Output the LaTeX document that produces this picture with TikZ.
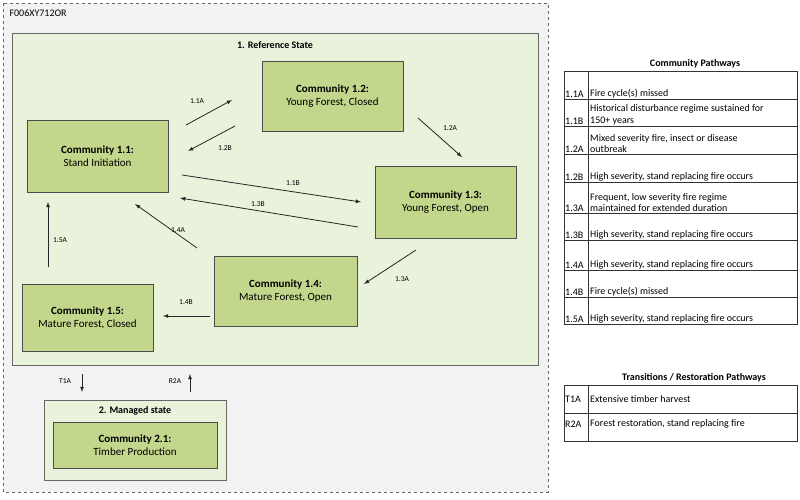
\documentclass[tikz,border=0pt]{standalone}
\usepackage{fontspec}
\setmainfont{Carlito}
\begin{document}
\begin{tikzpicture}[x=1pt,y=-1pt,
 comm/.style={draw=black!70,fill={rgb,255:red,194;green,214;blue,140},align=center,font=\fontsize{11}{13}\selectfont},
 lab/.style={font=\fontsize{7.5}{9}\selectfont},
 arr/.style={-latex,black!85,thick},
 cell/.style={font=\fontsize{10}{11.5}\selectfont,anchor=south west,inner sep=1pt,align=left}]
\useasboundingbox (0,0) rectangle (800,500);
\draw[dashed,black!60,fill={rgb,255:red,242;green,242;blue,242}] (3,3) rectangle (548,492);
\node[anchor=north west,font=\fontsize{10}{12}\selectfont] (id) at (6,6) {F006XY712OR};
\draw[black!60,fill={rgb,255:red,233;green,242;blue,218}] (12,33) rectangle (538,365);
\node[font=\bfseries\fontsize{10}{12}\selectfont] (rs) at (275,45) {1. Reference State};
\node[comm,minimum width=141,minimum height=70] (c12) at (332.5,96) {\textbf{Community 1.2:}\\Young Forest, Closed};
\node[comm,minimum width=141,minimum height=72] (c11) at (97.5,156) {\textbf{Community 1.1:}\\Stand Initiation};
\node[comm,minimum width=141,minimum height=72] (c13) at (445.5,202) {\textbf{Community 1.3:}\\Young Forest, Open};
\node[comm,minimum width=143,minimum height=70] (c14) at (285.5,291) {\textbf{Community 1.4:}\\Mature Forest, Open};
\node[comm,minimum width=131,minimum height=67] (c15) at (87.5,317.5) {\textbf{Community 1.5:}\\Mature Forest, Closed};
\coordinate (a1) at (186,125); \coordinate (a2) at (232,100);
\draw[arr] (a1) -- (a2); \node[lab] (l11a) at (197,101) {1.1A};
\coordinate (b1) at (235,126); \coordinate (b2) at (188,151);
\draw[arr] (b1) -- (b2); \node[lab] (l12b) at (225,148) {1.2B};
\coordinate (d1) at (182,175); \coordinate (d2) at (361,202);
\draw[arr] (d1) -- (d2); \node[lab] (l11b) at (293,183) {1.1B};
\coordinate (e1) at (358,227); \coordinate (e2) at (180,198);
\draw[arr] (e1) -- (e2); \node[lab] (l13b) at (258,204) {1.3B};
\coordinate (f1) at (418,118); \coordinate (f2) at (462,157);
\draw[arr] (f1) -- (f2); \node[lab] (l12a) at (450,128) {1.2A};
\coordinate (g1) at (416,250); \coordinate (g2) at (364,284);
\draw[arr] (g1) -- (g2); \node[lab] (l13a) at (402,279) {1.3A};
\coordinate (h1) at (197,248); \coordinate (h2) at (135,204);
\draw[arr] (h1) -- (h2); \node[lab] (l14a) at (178,230) {1.4A};
\coordinate (i1) at (48,267); \coordinate (i2) at (48,202);
\draw[arr] (i1) -- (i2); \node[lab] (l15a) at (60,240) {1.5A};
\coordinate (j1) at (210,316); \coordinate (j2) at (163,316);
\draw[arr] (j1) -- (j2); \node[lab] (l14b) at (186,302) {1.4B};
\coordinate (k1) at (82,374); \coordinate (k2) at (82,392);
\draw[arr] (k1) -- (k2); \node[lab] (lt1a) at (65,381) {T1A};
\coordinate (m1) at (190,392); \coordinate (m2) at (190,374);
\draw[arr] (m1) -- (m2); \node[lab] (lr2a) at (175,381) {R2A};
\draw[black!60,fill={rgb,255:red,233;green,242;blue,218}] (44,400) rectangle (226,480);
\node[font=\bfseries\fontsize{10}{12}\selectfont] (ms) at (135,411) {2. Managed state};
\node[comm,minimum width=164,minimum height=46] (c21) at (135,445) {\textbf{Community 2.1:}\\Timber Production};
% table 1
\node[font=\bfseries\fontsize{10}{12}\selectfont] (t1) at (695,64) {Community Pathways};
\draw[black!80] (564,71) rectangle (797,324);
\draw[black!80] (588,71) -- (588,324);
\foreach \y in {99,126,154,182,213,240,270,297} \draw[black!80] (564,\y) -- (797,\y);
\node[cell] (r1) at (564,99) {1.1A};\node[cell] (s1) at (589,99) {Fire cycle(s) missed};
\node[cell] (r2) at (564,126) {1.1B};\node[cell] (s2) at (589,126) {Historical disturbance regime sustained for\\150+ years};
\node[cell] (r3) at (564,154) {1.2A};\node[cell] (s3) at (589,154) {Mixed severity fire, insect or disease\\outbreak};
\node[cell] (r4) at (564,182) {1.2B};\node[cell] (s4) at (589,182) {High severity, stand replacing fire occurs};
\node[cell] (r5) at (564,213) {1.3A};\node[cell] (s5) at (589,213) {Frequent, low severity fire regime\\maintained for extended duration};
\node[cell] (r6) at (564,240) {1.3B};\node[cell] (s6) at (589,240) {High severity, stand replacing fire occurs};
\node[cell] (r7) at (564,270) {1.4A};\node[cell] (s7) at (589,270) {High severity, stand replacing fire occurs};
\node[cell] (r8) at (564,297) {1.4B};\node[cell] (s8) at (589,297) {Fire cycle(s) missed};
\node[cell] (r9) at (564,324) {1.5A};\node[cell] (s9) at (589,324) {High severity, stand replacing fire occurs};
% table 2
\node[font=\bfseries\fontsize{10}{12}\selectfont] (t2) at (694,378) {Transitions / Restoration Pathways};
\draw[black!80] (564,385) rectangle (797,441);
\draw[black!80] (588,385) -- (588,441);
\draw[black!80] (564,413) -- (797,413);
\node[cell,anchor=west] (u1) at (564,399) {T1A};\node[cell,anchor=west] (v1) at (589,399) {Extensive timber harvest};
\node[cell,anchor=west] (u2) at (564,424) {R2A};\node[cell,anchor=west] (v2) at (589,424) {Forest restoration, stand replacing fire};
\end{tikzpicture}
\end{document}
